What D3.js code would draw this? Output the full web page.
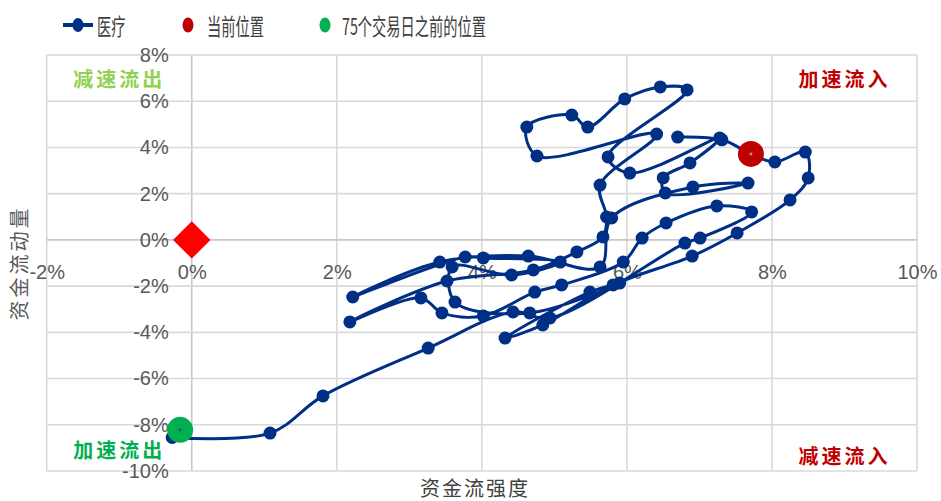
<!DOCTYPE html>
<html>
<head>
<meta charset="utf-8">
<script src="https://cdn.jsdelivr.net/npm/d3@7"></script>
<style>
  html, body { margin: 0; padding: 0; background: #fff; }
  svg { display: block; }
</style>
</head>
<body>
<svg id="chart" width="941" height="501"></svg>
<script>
// Fund-flow trajectory: strength (x, %) vs momentum (y, %)
const seriesName = "医疗";
const strength = [
  -0.27, 1.08, 1.81, 3.26, 4.43, 4.94, 6.80, 7.01, 7.72, 7.24,
  6.54, 6.21, 5.95, 5.10, 4.73, 4.02, 3.45, 3.16, 2.18, 3.52,
  4.71, 5.31, 5.67, 5.72, 5.63, 6.41, 4.76, 4.62, 5.24, 5.46,
  5.97, 6.46, 6.83, 5.74, 6.04, 7.28, 6.87, 6.50, 6.53, 7.67,
  6.91, 5.79, 5.63, 4.64, 3.42, 2.22, 3.77, 4.02, 5.08, 4.41,
  3.59, 3.63, 4.66, 5.90, 5.49, 4.32, 4.84, 5.81, 6.90, 7.52,
  8.25, 8.50, 8.46, 8.04, 7.71, 7.31, 6.70
];
const momentum = [
  -8.55, -8.36, -6.75, -4.68, -3.12, -3.38, -0.14, 0.08, 1.21, 1.47,
  0.73, 0.08, -0.96, -1.95, -2.26, -3.29, -3.16, -2.51, -3.55, -1.78,
  -1.30, -0.52, 0.13, 0.99, 2.37, 4.58, 3.63, 4.88, 5.40, 4.88,
  6.10, 6.62, 6.49, 3.59, 2.89, 4.41, 3.33, 2.68, 2.03, 2.46,
  2.29, 0.95, -1.17, -0.70, -0.96, -2.47, -0.74, -0.78, -0.96, -1.52,
  -1.17, -2.69, -3.16, -1.87, -2.26, -4.25, -3.68, -1.95, -0.70, 0.30,
  1.73, 2.68, 3.80, 3.37, 3.72, 4.33, 4.45
];
const currentName = "当前位置";
const current = [7.71, 3.72];
const pastName = "75个交易日之前的位置";
const past = [-0.16, -8.22];
const origin = [0, 0];

const xTicks = [-2, 0, 2, 4, 6, 8, 10];
const yTicks = [-10, -8, -6, -4, -2, 0, 2, 4, 6, 8];
const xTitle = "资金流强度";
const yTitle = "资金流动量";
const quadrants = [
  { text: "减速流出", cx: -1, cy: 7, color: "#92D050" },
  { text: "加速流入", cx: 9, cy: 7, color: "#C00000" },
  { text: "加速流出", cx: -1, cy: -9.05, color: "#00B050" },
  { text: "减速流入", cx: 9, cy: -9.35, color: "#C00000" }
];

const svg = d3.select("#chart");
const x = d3.scaleLinear().domain([-2, 10]).range([46.7, 917]);
const y = d3.scaleLinear().domain([-10, 8]).range([471, 55]);

const NAVY = "#002F86";
const GRID = "#D9D9D9";
const AXIS_FONT = "'Liberation Sans', Arial, sans-serif";
const CJK_FONT = "'Noto Sans CJK SC', 'Noto Sans', sans-serif";

// grid
const grid = svg.append("g");
grid.selectAll("line.v").data(xTicks).join("line")
  .attr("x1", d => x(d)).attr("x2", d => x(d))
  .attr("y1", y(8)).attr("y2", y(-10))
  .attr("stroke", d => d === 0 ? "#C8C8C8" : GRID).attr("stroke-width", 1.6);
grid.selectAll("line.h").data(yTicks).join("line")
  .attr("x1", x(-2)).attr("x2", x(10))
  .attr("y1", d => y(d)).attr("y2", d => y(d))
  .attr("stroke", d => d === 0 ? "#C8C8C8" : GRID).attr("stroke-width", 1.6);

// axes with labels only
const fmt = d => d + "%";
const gx = svg.append("g").attr("transform", `translate(0,${y(0)})`)
  .call(d3.axisBottom(x).tickValues(xTicks).tickFormat(fmt).tickSize(0).tickPadding(25));
const gy = svg.append("g").attr("transform", `translate(${x(0)},0)`)
  .call(d3.axisLeft(y).tickValues(yTicks).tickFormat(fmt).tickSize(0).tickPadding(23));
[gx, gy].forEach(g => {
  g.select(".domain").remove();
  g.selectAll("text").attr("fill", "#595959")
    .style("font-family", AXIS_FONT).style("font-size", "20px");
});

// quadrant labels
svg.append("g").selectAll("text").data(quadrants).join("text")
  .attr("x", d => x(d.cx)).attr("y", d => y(d.cy))
  .attr("text-anchor", "middle").attr("dominant-baseline", "central")
  .attr("fill", d => d.color)
  .style("font-family", CJK_FONT).style("font-size", "20px").style("font-weight", "700")
  .style("letter-spacing", "3px")
  .text(d => d.text);

// axis titles
svg.append("text").attr("x", 475).attr("y", 487)
  .attr("text-anchor", "middle").attr("dominant-baseline", "central")
  .attr("fill", "#404040")
  .style("font-family", CJK_FONT).style("font-size", "20px").style("letter-spacing", "2px")
  .text(xTitle);
svg.append("text")
  .attr("transform", `translate(18,${(y(8) + y(-10)) / 2}) rotate(-90)`)
  .attr("text-anchor", "middle").attr("dominant-baseline", "central")
  .attr("fill", "#595959")
  .style("font-family", CJK_FONT).style("font-size", "20px").style("letter-spacing", "3px")
  .text(yTitle);

// trajectory
const pts = strength.map((v, i) => [v, momentum[i]]);
const line = d3.line().x(d => x(d[0])).y(d => y(d[1])).curve(d3.curveCatmullRom.alpha(0.5));
svg.append("path").datum(pts)
  .attr("d", line).attr("fill", "none")
  .attr("stroke", NAVY).attr("stroke-width", 3).attr("stroke-linejoin", "round");
svg.append("g").selectAll("circle").data(pts).join("circle")
  .attr("cx", d => x(d[0])).attr("cy", d => y(d[1])).attr("r", 6.5)
  .attr("fill", NAVY);

// origin marker
svg.append("path")
  .attr("d", d3.symbol(d3.symbolSquare, 700)())
  .attr("transform", `translate(${x(origin[0])},${y(origin[1])}) rotate(45)`)
  .attr("fill", "#FF0000");

// past and current positions
svg.append("circle").attr("cx", x(past[0])).attr("cy", y(past[1])).attr("r", 13).attr("fill", "#00B050");
svg.append("circle").attr("cx", x(past[0])).attr("cy", y(past[1])).attr("r", 1.5).attr("fill", "#1F4E9A");
svg.append("circle").attr("cx", x(current[0])).attr("cy", y(current[1])).attr("r", 13).attr("fill", "#C00000");
svg.append("circle").attr("cx", x(current[0])).attr("cy", y(current[1])).attr("r", 1.5).attr("fill", "#A8A070");

// legend
const lg = svg.append("g");
lg.append("line").attr("x1", 63).attr("x2", 93).attr("y1", 25).attr("y2", 25)
  .attr("stroke", NAVY).attr("stroke-width", 4);
lg.append("ellipse").attr("cx", 78).attr("cy", 25).attr("rx", 5.5).attr("ry", 7).attr("fill", NAVY);
lg.append("ellipse").attr("cx", 188).attr("cy", 25).attr("rx", 5.5).attr("ry", 7.5).attr("fill", "#C00000");
lg.append("ellipse").attr("cx", 325).attr("cy", 25).attr("rx", 5.5).attr("ry", 7.5).attr("fill", "#00B050");
const legendItems = [
  { text: seriesName, x: 97 },
  { text: currentName, x: 207 },
  { text: pastName, x: 342 }
];
lg.selectAll("text").data(legendItems).join("text")
  .attr("transform", d => `translate(${d.x},25) scale(0.62,1)`)
  .attr("dominant-baseline", "central")
  .attr("fill", "#404040")
  .style("font-family", CJK_FONT).style("font-size", "23px")
  .text(d => d.text);
</script>
</body>
</html>
